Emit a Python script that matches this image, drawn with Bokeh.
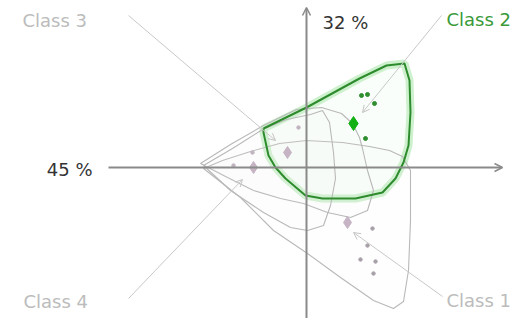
from bokeh.plotting import figure
from bokeh.models import Range1d, Arrow, OpenHead, Label
from bokeh.embed import file_html
from bokeh.resources import INLINE

# ---------------- data (chart units) ----------------
axis_h = [-198, 196]          # horizontal component axis extent
axis_v = [-159, 160]          # vertical component axis extent
axis_h_label = "45 %"
axis_v_label = "32 %"

class_names = ["Class 1", "Class 2", "Class 3", "Class 4"]
label_x = [140, 140, -284, -283]
label_y = [-133, 148, 147, -134]
line_start_x = [136, 135, -178, -178]
line_start_y = [-129, 152, 152, -131]
line_tip_x = [47, 56, -31, -64]
line_tip_y = [-65, 55, 27, -12]

centroid_x = [41, 47, -19, -53]
centroid_y = [-55, 44, 15, 0]

pts_c2_x = [55, 61, 68, 59]
pts_c2_y = [72, 73, 64, 29]
pts_c1_x = [66, 61, 54, 69, 67]
pts_c1_y = [-61, -78, -92, -94, -106]
pts_other_x = [-8, -54, -73]
pts_other_y = [40, 15, 2]

hull2_x = [-43, 0, 53, 80, 98, 103, 104, 102, 97, 89, 76, 49, 16, -1, -21, -31, -38, -43, -43]
hull2_y = [39, 60, 89, 102, 104, 87, 55, 22, 5, -11, -25, -31, -31, -28, -11, 0, 12, 35, 39]

hull1_x = [-103, -66, -33, 1, 34, 67, 87, 97, 102, 104, 104, 96, 83, 63, 36, 0, -27, -56, -84, -103]
hull1_y = [-1, -30, -63, -86, -110, -133, -141, -134, -103, -53, -3, 11, 17, 21, 25, 27, 24, 16, 7, -1]

hull3_x = [-106, -76, -43, -10, 15, 35, 46, 53, 56, 61, 67, 61, 44, 21, -3, -26, -53, -79, -106]
hull3_y = [4, 23, 42, 58, 60, 54, 44, 30, 19, -3, -23, -43, -50, -45, -36, -31, -23, -10, 4]

hull4_x = [-103, -74, -44, -20, 4, 16, 23, 27, 29, 24, 17, 1, -16, -43, -76, -103]
hull4_y = [2, 19, 38, 48, 53, 57, 45, 15, -11, -38, -58, -63, -60, -45, -23, 2]

# ---------------- figure ----------------
p = figure(width=510, height=318, x_range=Range1d(-306, 204), y_range=Range1d(-151, 167),
           output_backend="svg", toolbar_location=None, min_border=0)
p.axis.visible = False
p.grid.visible = False
p.outline_line_color = None
p.background_fill_color = "white"
p.border_fill_color = "white"

FONT = "DejaVu Sans"
GRAY_TXT = "#bcbcbc"
GREEN = "#2e8b2e"

# green glow / fill
p.patch(hull2_x, hull2_y, fill_color="#e6f8e6", fill_alpha=0.2,
        line_color="#cdf0cd", line_width=8)

# gray hulls
for hx, hy in [(hull1_x, hull1_y), (hull3_x, hull3_y), (hull4_x, hull4_y)]:
    p.patch(hx, hy, fill_color="#f3edf3", fill_alpha=0.07, line_color="#b8b8b8", line_width=1.1)

# axes
p.add_layout(Arrow(end=OpenHead(size=8, line_color="#8a8a8a", line_width=1.5),
                   x_start=axis_h[0], y_start=0, x_end=axis_h[1], y_end=0,
                   line_color="#8a8a8a", line_width=2))
p.add_layout(Arrow(end=OpenHead(size=8, line_color="#8a8a8a", line_width=1.5),
                   x_start=0, y_start=axis_v[0], x_end=0, y_end=axis_v[1],
                   line_color="#8a8a8a", line_width=2))

# class direction lines
for i in range(4):
    p.add_layout(Arrow(end=OpenHead(size=7, line_color="#c4c4c4", line_width=1),
                       x_start=line_start_x[i], y_start=line_start_y[i],
                       x_end=line_tip_x[i], y_end=line_tip_y[i],
                       line_color="#c8c8c8", line_width=1))

# green hull outline
p.line(hull2_x, hull2_y, line_color=GREEN, line_width=2)

# observation points
p.scatter(pts_c1_x, pts_c1_y, size=3.5, color="#a8a0a8")
p.scatter(pts_other_x, pts_other_y, size=3.5, color="#c0b4c0")
p.scatter(pts_c2_x, pts_c2_y, size=4, color="#2f8f2f")

# centroids
gray_idx = [0, 2, 3]
p.scatter([centroid_x[i] for i in gray_idx], [centroid_y[i] for i in gray_idx],
          marker="diamond", size=12, color="#c6b4c4")
p.scatter([centroid_x[1]], [centroid_y[1]], marker="diamond", size=14, color="#12b012")

# labels
for i, name in enumerate(class_names):
    col = "#3a9a3a" if name == "Class 2" else GRAY_TXT
    p.add_layout(Label(x=label_x[i], y=label_y[i], text=name, text_font=FONT,
                       text_font_size="18px", text_color=col,
                       text_align="left", text_baseline="middle"))
p.add_layout(Label(x=16, y=145, text=axis_v_label, text_font=FONT, text_font_size="18px",
                   text_color="#333333", text_align="left", text_baseline="middle"))
p.add_layout(Label(x=-214, y=-2, text=axis_h_label, text_font=FONT, text_font_size="18px",
                   text_color="#333333", text_align="right", text_baseline="middle"))

open("out.html", "w").write(file_html(p, INLINE))
